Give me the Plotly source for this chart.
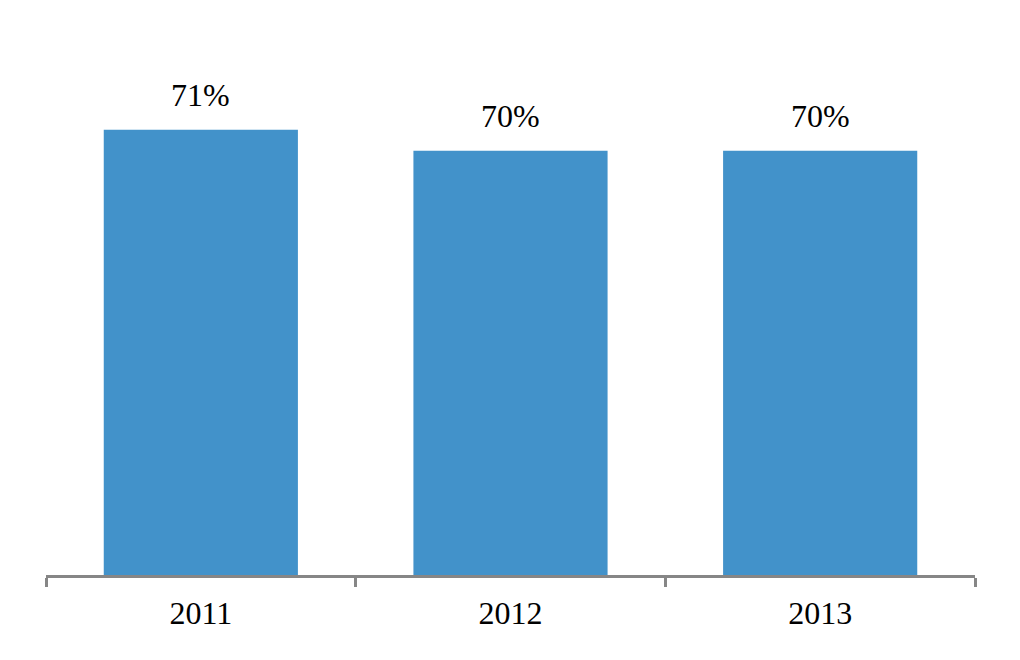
import plotly.graph_objects as go

categories = ["2011", "2012", "2013"]
values = [71.2, 70.2, 70.2]          # percent
labels = ["71%", "70%", "70%"]

bar_color = "#4292CA"
font_family = "Liberation Serif, Times New Roman, serif"

fig = go.Figure()
fig.add_trace(go.Bar(
    x=categories, y=values, marker=dict(color=bar_color, line=dict(width=0)),
    width=0.627, hoverinfo="skip",
))

for i, (v, t) in enumerate(zip(values, labels)):
    fig.add_annotation(x=i, y=v, xref="x", yref="y", text=t, showarrow=False,
                       yanchor="bottom", yshift=15,
                       font=dict(family=font_family, size=32, color="#000000"))

# the page body has an 8px default margin, so the figure is sized to fit
fig.update_layout(
    width=1012, height=652,
    margin=dict(l=38, r=45, t=42, b=84.5),
    paper_bgcolor="white", plot_bgcolor="white",
    showlegend=False,
    font=dict(family=font_family, size=32, color="#000000"),
)
fig.update_xaxes(
    type="category", range=[-0.5, 2.5],
    showline=True, linecolor="#868686", linewidth=3,
    ticks="outside", tickson="boundaries", ticklen=9, tickwidth=3, tickcolor="#868686",
    ticklabelstandoff=8,
    showgrid=False, zeroline=False,
    tickfont=dict(family=font_family, size=32, color="#000000"),
)
fig.update_yaxes(
    range=[50, 75], visible=False, showgrid=False, zeroline=False,
)

fig.write_html("out.html")
